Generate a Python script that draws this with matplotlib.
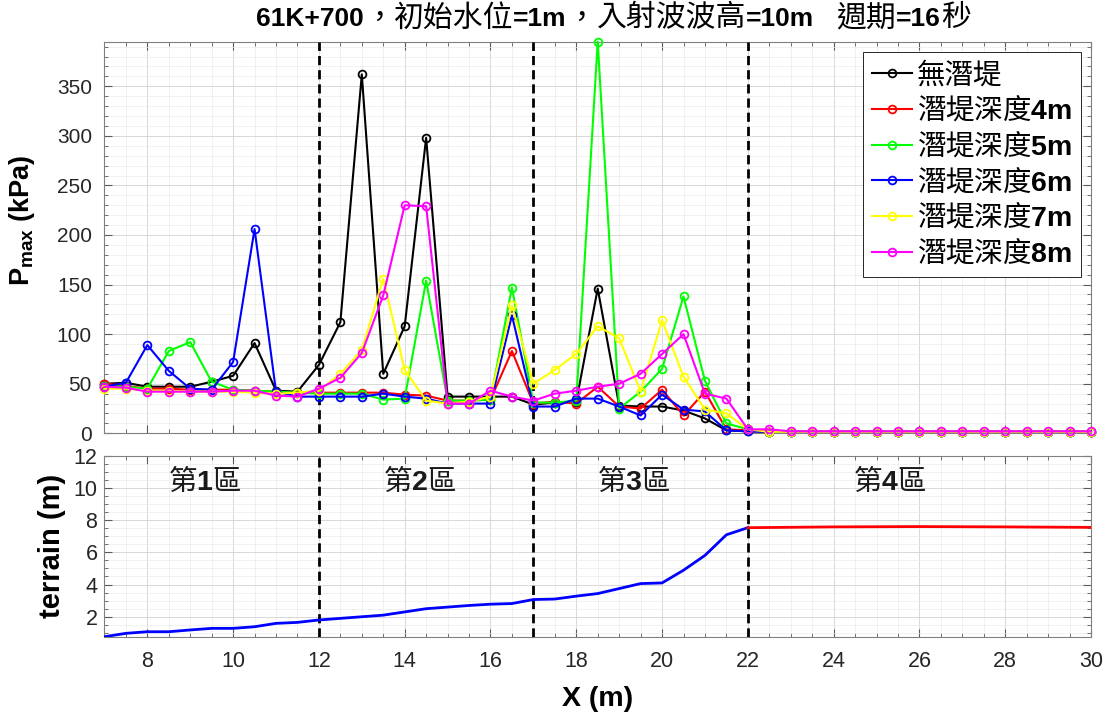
import matplotlib
matplotlib.use("Agg")
import matplotlib.pyplot as plt
from matplotlib.ticker import MultipleLocator
from matplotlib.font_manager import FontProperties
from matplotlib.offsetbox import TextArea, HPacker, AnchoredOffsetbox

plt.rcParams["mathtext.fontset"] = "custom"
plt.rcParams["mathtext.rm"] = "Liberation Sans"
plt.rcParams["mathtext.bf"] = "Liberation Sans:bold"
plt.rcParams["mathtext.it"] = "Liberation Sans:italic"
plt.rcParams["font.family"] = ["Liberation Sans", "Noto Sans CJK TC"]

# ---- data -------------------------------------------------------------
x_pos = [7.0, 7.5, 8.0, 8.5, 9.0, 9.5, 10.0, 10.5, 11.0, 11.5,
         12.0, 12.5, 13.0, 13.5, 14.0, 14.5, 15.0, 15.5, 16.0, 16.5,
         17.0, 17.5, 18.0, 18.5, 19.0, 19.5, 20.0, 20.5, 21.0, 21.5,
         22.0, 22.5, 23.0, 23.5, 24.0, 24.5, 25.0, 25.5, 26.0, 26.5,
         27.0, 27.5, 28.0, 28.5, 29.0, 29.5, 30.0]

tail = [1.5] * 16

p_none = [50, 51, 47, 47, 47, 52, 58, 91, 43, 42,
          69, 112, 362, 60, 108, 298, 37, 37, 37, 37,
          29, 31, 32, 146, 28, 27, 27, 23, 15, 3, 2] + tail
p_4m = [50, 48, 45, 45, 44, 44, 44, 43, 42, 41,
        41, 41, 41, 41, 39, 38, 33, 33, 34, 83,
        30, 32, 30, 47, 27, 25, 44, 18, 42, 4, 3] + tail
p_5m = [48, 47, 45, 83, 92, 52, 44, 43, 42, 41,
        40, 40, 40, 34, 35, 154, 33, 33, 34, 147,
        31, 31, 33, 395, 25, 42, 65, 138, 53, 10, 4] + tail
p_6m = [47, 51, 89, 63, 45, 44, 72, 206, 42, 37,
        37, 37, 37, 40, 37, 35, 30, 30, 30, 119,
        27, 27, 35, 35, 27, 18, 39, 24, 22, 3, 2] + tail
p_7m = [45, 45, 43, 43, 42, 42, 42, 41, 40, 41,
        43, 60, 84, 156, 64, 33, 30, 32, 37, 129,
        50, 64, 80, 108, 96, 42, 114, 57, 24, 20, 4] + tail
p_8m = [47, 46, 42, 42, 42, 42, 43, 43, 38, 37,
        45, 56, 81, 139, 230, 229, 30, 30, 43, 37,
        33, 40, 43, 47, 50, 60, 80, 100, 40, 35, 4,
        4, 2, 2, 2, 2, 2, 2, 2, 2, 2, 2, 2, 2, 2, 2, 2]

series_labels = ["無潛堤", r"潛堤深度$\mathbf{4m}$", r"潛堤深度$\mathbf{5m}$",
                 r"潛堤深度$\mathbf{6m}$", r"潛堤深度$\mathbf{7m}$",
                 r"潛堤深度$\mathbf{8m}$"]
series_values = [p_none, p_4m, p_5m, p_6m, p_7m, p_8m]
series_colors = ["#000000", "#ff0000", "#00ff00", "#0000ff", "#ffff00", "#ff00ff"]

# seabed profile: sloping part and flat crest
terrain_x = [7.0, 7.5, 8.0, 8.5, 9.0, 9.5, 10.0, 10.5, 11.0, 11.5,
             12.0, 12.5, 13.0, 13.5, 14.0, 14.5, 15.0, 15.5, 16.0, 16.5,
             17.0, 17.5, 18.0, 18.5, 19.0, 19.5, 20.0, 20.5, 21.0, 21.5, 22.0]
terrain_z = [0.76, 0.97, 1.07, 1.07, 1.18, 1.28, 1.28, 1.38, 1.59, 1.65,
             1.80, 1.90, 2.00, 2.10, 2.30, 2.50, 2.60, 2.70, 2.78, 2.82,
             3.07, 3.10, 3.28, 3.44, 3.75, 4.06, 4.10, 4.89, 5.81, 7.09, 7.53]
crest_x = [22.0, 24.0, 26.0, 28.0, 30.0]
crest_z = [7.53, 7.58, 7.60, 7.58, 7.55]

zone_bounds = [12, 17, 22]
zone_names = [r"第$\mathbf{1}$區", r"第$\mathbf{2}$區", r"第$\mathbf{3}$區", r"第$\mathbf{4}$區"]
zone_label_x = [9.35, 14.35, 19.35, 25.3]

title_parts = [("61K+700", "b"), ("，", "c"), ("初始水位", "c"), ("=1m", "b"),
               ("，", "c"), ("入射波波高", "c"), ("=10m", "b"), ("   ", "b"),
               ("週期", "c"), ("=16", "b"), ("秒", "c")]

# ---- figure -----------------------------------------------------------
fig = plt.figure(figsize=(11.11, 7.18), dpi=100)
ax1 = fig.add_axes([0.094, 0.3965, 0.888, 0.5455])
ax2 = fig.add_axes([0.094, 0.1132, 0.888, 0.2521])

tick_col = "#262626"
for ax in (ax1, ax2):
    ax.set_axisbelow(True)
    ax.grid(which="major", color="#d2d2d2", lw=0.6)
    ax.grid(which="minor", color="#ebebeb", lw=0.5)
    ax.tick_params(which="both", direction="in", top=True, right=True,
                   colors="#5a5a5a", labelcolor=tick_col)
    ax.tick_params(which="major", length=6, width=0.8)
    ax.tick_params(which="minor", length=3, width=0.6)
    for s in ax.spines.values():
        s.set_color("#808080")
        s.set_linewidth(0.8)
    ax.set_xlim(7, 30)
    ax.xaxis.set_major_locator(MultipleLocator(2))
    ax.xaxis.set_minor_locator(MultipleLocator(0.5))
    for xb in zone_bounds:
        ax.axvline(xb, color="k", lw=2.0, ls=(0, (3.3, 1.8)), zorder=3)

# pressure panel
for vals, lab, col in zip(series_values, series_labels, series_colors):
    ax1.plot(x_pos, vals, color=col, lw=1.5, marker="o", ms=5.6,
             mfc="none", mew=1.3, label=lab, clip_on=False, zorder=4)
ax1.set_ylim(0, max(max(v) for v in series_values))
ax1.yaxis.set_major_locator(MultipleLocator(50))
ax1.yaxis.set_minor_locator(MultipleLocator(10))
ax1.tick_params(axis="x", labelbottom=False)
ax1.tick_params(axis="y", labelsize=15, pad=9)
ax1.set_ylabel(r"$\mathbf{P_{max}}$ (kPa)", fontsize=19.5, fontweight="bold",
               family="Liberation Sans")
ax1.yaxis.set_label_coords(-0.068, 0.545)

leg = ax1.legend(loc="upper right", bbox_to_anchor=(1, 1), borderaxespad=0.35,
                 prop=FontProperties(family="Noto Sans CJK TC", size=20.5),
                 handlelength=1.4, handletextpad=0.2, labelspacing=0.2,
                 borderpad=0.3, fancybox=False, framealpha=1, numpoints=1)
leg.get_frame().set_edgecolor("#262626")
leg.get_frame().set_linewidth(0.7)

# terrain panel
ax2.plot(terrain_x, terrain_z, color="#0000ff", lw=2.0, zorder=4)
ax2.plot(crest_x, crest_z, color="#ff0000", lw=2.0, zorder=4)
ax2.set_ylim(min(terrain_z), 12)
ax2.yaxis.set_major_locator(MultipleLocator(2))
ax2.yaxis.set_minor_locator(MultipleLocator(0.5))
ax2.tick_params(axis="y", labelsize=15.5, pad=5)
ax2.tick_params(axis="x", labelsize=15.5, pad=10)
ax2.set_ylabel("terrain (m)", fontsize=21, fontweight="bold", family="Liberation Sans")
ax2.yaxis.set_label_coords(-0.039, 0.5)
ax2.set_xlabel("X (m)", fontsize=20.5, fontweight="bold", family="Liberation Sans")
ax2.xaxis.set_label_coords(0.5, -0.275)
for zx, zn in zip(zone_label_x, zone_names):
    ax2.text(zx, 10.35, zn, ha="center", va="center", fontsize=20.5,
             family="Noto Sans CJK TC", color="#1a1a1a", zorder=5)

# title assembled from bold latin and regular CJK pieces
fp_b = FontProperties(family="Liberation Sans", weight="bold", size=19)
fp_c = FontProperties(family="Noto Sans CJK TC", size=21.5)
pieces = [TextArea(t, textprops=dict(fontproperties=fp_b if k == "b" else fp_c, color="k"))
          for t, k in title_parts]
title_box = HPacker(children=pieces, align="baseline", pad=0, sep=0)
fig.add_artist(AnchoredOffsetbox(loc="center", child=title_box, pad=0, borderpad=0,
                                 frameon=False, bbox_to_anchor=(0.552, 1 - 18 / 718),
                                 bbox_transform=fig.transFigure))

fig.savefig("out.png", dpi=100)
